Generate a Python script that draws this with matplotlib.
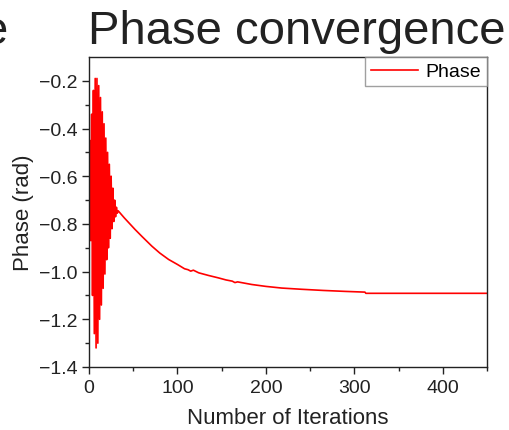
import matplotlib.pyplot as plt
import numpy as np

plt.rcParams['font.family'] = ['Liberation Sans', 'DejaVu Sans']

# oscillating start, one value per iteration (0..33)
osc_values = [-0.62, -0.45, -0.87, -0.34, -1.10, -0.24, -1.26, -0.19, -1.32, -0.19,
              -1.30, -0.22, -1.20, -0.27, -1.14, -0.33, -1.07, -0.38, -1.01, -0.44,
              -0.95, -0.50, -0.90, -0.55, -0.86, -0.60, -0.82, -0.65, -0.79, -0.70,
              -0.77, -0.73, -0.755, -0.745]
osc_iters = list(range(len(osc_values)))

# smooth tail
tail_iters = [40, 52, 60, 71, 80, 90, 100, 108, 112, 115, 118, 124, 135, 146, 155,
              162, 165, 168, 184, 200, 218, 240, 265, 290, 312, 313, 350, 400, 450]
tail_values = [-0.775, -0.823, -0.853, -0.893, -0.922, -0.949, -0.970, -0.988, -0.992,
               -0.998, -0.994, -1.005, -1.016, -1.026, -1.035, -1.040, -1.046, -1.043,
               -1.054, -1.062, -1.069, -1.074, -1.079, -1.083, -1.086, -1.091, -1.091,
               -1.091, -1.091]

iters = np.array(osc_iters + tail_iters)
phase = np.array(osc_values + tail_values)

fig = plt.figure(figsize=(5.1, 4.31), dpi=100)
ax = fig.add_axes([89 / 510, 1 - 368 / 431, (487 - 89) / 510, (368 - 58) / 431])

ax.plot(iters, phase, color='red', lw=1.2, label='Phase')

ax.set_xlim(0, 450)
ax.set_ylim(-1.4, -0.1)
ax.set_xticks([0, 100, 200, 300, 400])
ax.set_xticks([50, 150, 250, 350, 450], minor=True)
ax.set_yticks([-1.4, -1.2, -1.0, -0.8, -0.6, -0.4, -0.2])
ax.set_yticks(np.arange(-1.3, -0.1, 0.2), minor=True)
ax.tick_params(which='major', length=5, width=1, labelsize=14, colors='#222222')
ax.tick_params(which='minor', length=3, width=1, colors='#222222')
for s in ax.spines.values():
    s.set_linewidth(1.0)
    s.set_color('#222222')

ax.set_xlabel('Number of Iterations', fontsize=16, color='#222222', labelpad=8)
ax.set_ylabel('Phase (rad)', fontsize=16, color='#222222', labelpad=3)

leg = ax.legend(loc='upper right', borderaxespad=0, fancybox=False, fontsize=14,
                handlelength=2.4, borderpad=0.3, handletextpad=0.4)
leg.get_frame().set_edgecolor('#888888')
leg.get_frame().set_linewidth(1.0)

fig.text(88 / 510, 1 - 44 / 431, 'Phase convergence', fontsize=34, color='#222222',
         ha='left', va='baseline')
# tail of neighbouring title, cut by the screenshot
fig.text(-18 / 510, 1 - 44 / 431, 'e', fontsize=34, color='#222222',
         ha='left', va='baseline')

fig.savefig('out.png', dpi=100)
